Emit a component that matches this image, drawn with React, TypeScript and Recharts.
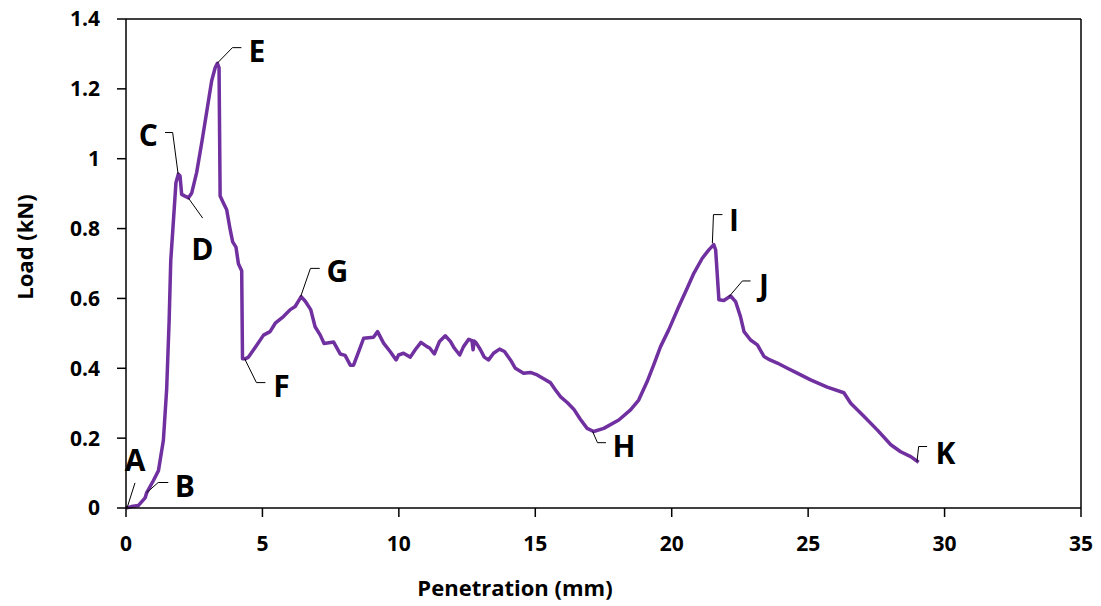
import React from "react";
import {
    Line,
    LineChart,
    ReferenceDot,
    ReferenceLine,
    XAxis,
    YAxis,
    Label,
} from "recharts";

// penetration (mm) and load (kN)
const penetration = [
    0.0, 0.2, 0.45, 0.7, 0.76, 1.0, 1.19, 1.37, 1.49, 1.58, 1.64, 1.74, 1.83, 1.92, 1.98,
    2.04, 2.16, 2.29, 2.41, 2.59, 2.78, 2.96, 3.14, 3.27, 3.35, 3.41, 3.45, 3.57, 3.69, 3.82,
    3.91, 4.03, 4.12, 4.24, 4.27, 4.37, 4.49, 4.79, 5.04, 5.28, 5.47, 5.77, 6.02, 6.2, 6.42,
    6.57, 6.77, 6.93, 7.12, 7.26, 7.61, 7.85, 8.03, 8.22, 8.34, 8.52, 8.71, 9.07, 9.22, 9.44,
    9.68, 9.9, 9.99, 10.17, 10.42, 10.6, 10.81, 11.03, 11.13, 11.3, 11.49, 11.7, 11.89, 12.03,
    12.23, 12.37, 12.56, 12.68, 12.72, 12.76, 12.84, 12.99, 13.13, 13.29, 13.47, 13.69, 13.87,
    14.09, 14.27, 14.57, 14.82, 15.07, 15.37, 15.55, 15.74, 15.92, 16.17, 16.41, 16.65, 16.9,
    17.14, 17.51, 18.06, 18.49, 18.79, 19.1, 19.34, 19.59, 19.89, 20.26, 20.57, 20.81, 21.12,
    21.36, 21.54, 21.61, 21.73, 21.91, 22.16, 22.34, 22.52, 22.65, 22.89, 23.14, 23.38, 23.6,
    23.87, 24.24, 24.6, 25.09, 25.7, 26.31, 26.56, 27.05, 27.54, 28.03, 28.39, 28.76, 29.05,
];
const load = [
    0.0, 0.004, 0.007, 0.029, 0.044, 0.078, 0.107, 0.194, 0.34, 0.534, 0.708, 0.825, 0.931, 0.956, 0.951,
    0.898, 0.893, 0.888, 0.902, 0.961, 1.048, 1.135, 1.223, 1.261, 1.273, 1.261, 0.893, 0.873, 0.854, 0.796,
    0.762, 0.747, 0.699, 0.679, 0.427, 0.427, 0.432, 0.466, 0.495, 0.505, 0.529, 0.548, 0.568, 0.577, 0.605,
    0.592, 0.568, 0.519, 0.495, 0.471, 0.475, 0.441, 0.437, 0.409, 0.409, 0.446, 0.486, 0.489, 0.505, 0.472,
    0.448, 0.424, 0.438, 0.443, 0.432, 0.453, 0.474, 0.462, 0.458, 0.441, 0.477, 0.493, 0.477, 0.458,
    0.438, 0.462, 0.483, 0.479, 0.453, 0.478, 0.472, 0.453, 0.432, 0.424, 0.443, 0.455, 0.448,
    0.424, 0.4, 0.386, 0.388, 0.381, 0.367, 0.359, 0.338, 0.319, 0.302, 0.283, 0.254, 0.228,
    0.219, 0.228, 0.252, 0.281, 0.309, 0.362, 0.41, 0.462, 0.51, 0.577, 0.63, 0.672, 0.715,
    0.739, 0.754, 0.739, 0.596, 0.594, 0.607, 0.591, 0.548, 0.505, 0.481, 0.467, 0.434, 0.424,
    0.415, 0.4, 0.386, 0.367, 0.346, 0.33, 0.3, 0.262, 0.223, 0.181, 0.161, 0.147, 0.131,
];

const xTicks = [0, 5, 10, 15, 20, 25, 30, 35];
const yTicks = [0, 0.2, 0.4, 0.6, 0.8, 1, 1.2, 1.4];

// point letters, where each letter sits, and the leader line back to the curve
const pointNames = ["A", "B", "C", "D", "E", "F", "G", "H", "I", "J", "K"];
const nameAt: [number, number][] = [
    [0.33, 0.14], [2.16, 0.063], [0.82, 1.07], [2.8, 0.742], [4.8, 1.31], [5.7, 0.35],
    [7.75, 0.679], [18.25, 0.178], [22.28, 0.827], [23.38, 0.64], [30.03, 0.158],
];
const leaders: [number, number][][] = [
    [[0.05, 0.003], [0.33, 0.072]],
    [[0.76, 0.044], [1.18, 0.073], [1.55, 0.073]],
    [[1.91, 0.956], [1.71, 1.075], [1.43, 1.075]],
    [[2.28, 0.888], [2.81, 0.83]],
    [[3.34, 1.273], [3.9, 1.318], [4.23, 1.318]],
    [[4.35, 0.427], [4.78, 0.359], [5.11, 0.359]],
    [[6.4, 0.605], [6.76, 0.686], [7.1, 0.686]],
    [[17.1, 0.219], [17.28, 0.187], [17.59, 0.187]],
    [[21.49, 0.758], [21.53, 0.84], [21.86, 0.84]],
    [[22.1, 0.605], [22.59, 0.65], [22.89, 0.65]],
    [[28.99, 0.133], [29.05, 0.176], [29.36, 0.176]],
];

const data = penetration.map((x, i) => ({ x, load: load[i] }));

const FONT = "'Open Sans', Lato, sans-serif";

export default function App() {
    const tickStyle = { fill: "#000", fontSize: 21, fontWeight: 700, fontFamily: FONT };

    return (
        <div style={{ position: "absolute", left: 0, top: 0, fontFamily: FONT }}>
            <LineChart
                width={1101}
                height={606}
                data={data}
                margin={{ top: 19, right: 20, bottom: 0, left: 0 }}
            >
                <XAxis
                    dataKey="x"
                    type="number"
                    domain={[0, 35]}
                    ticks={xTicks}
                    height={98}
                    stroke="#000"
                    strokeWidth={1.5}
                    tickSize={9}
                    tickMargin={19}
                    tick={tickStyle}
                >
                    <Label
                        content={() => (
                            <text
                                x={515}
                                y={596}
                                textAnchor="middle"
                                fontSize={22}
                                fontWeight={700}
                                fontFamily={FONT}
                                fill="#000"
                            >
                                Penetration (mm)
                            </text>
                        )}
                    />
                </XAxis>
                <YAxis
                    type="number"
                    domain={[0, 1.4]}
                    ticks={yTicks}
                    width={126}
                    stroke="#000"
                    strokeWidth={1.5}
                    tickSize={9}
                    tickMargin={17}
                    tick={tickStyle}
                >
                    <Label
                        content={() => (
                            <text
                                x={24}
                                y={247}
                                transform="rotate(-90 24 247)"
                                textAnchor="middle"
                                dominantBaseline="central"
                                fontSize={22}
                                fontWeight={700}
                                fontFamily={FONT}
                                fill="#000"
                            >
                                Load (kN)
                            </text>
                        )}
                    />
                </YAxis>

                {/* plot area box: top and right edges */}
                <ReferenceLine y={1.4} stroke="#000" strokeWidth={1.5} />
                <ReferenceLine x={35} stroke="#000" strokeWidth={1.5} />

                <Line
                    type="linear"
                    dataKey="load"
                    stroke="#7030A0"
                    strokeWidth={3.5}
                    strokeLinejoin="round"
                    dot={false}
                    isAnimationActive={false}
                />

                {leaders.flatMap((pts, i) =>
                    pts.slice(1).map((p, j) => (
                        <ReferenceLine
                            key={`ld-${i}-${j}`}
                            segment={[
                                { x: pts[j][0], y: pts[j][1] },
                                { x: p[0], y: p[1] },
                            ]}
                            stroke="#000"
                            strokeWidth={1}
                            ifOverflow="visible"
                        />
                    ))
                )}

                {pointNames.map((name, i) => (
                    <ReferenceDot
                        key={name}
                        x={nameAt[i][0]}
                        y={nameAt[i][1]}
                        r={0}
                        ifOverflow="visible"
                        shape={(p: any) => (
                            <text
                                x={p.cx}
                                y={p.cy}
                                textAnchor="middle"
                                dominantBaseline="central"
                                fontSize={30}
                                fontWeight={700}
                                fontFamily={FONT}
                                fill="#000"
                            >
                                {name}
                            </text>
                        )}
                    />
                ))}
            </LineChart>
        </div>
    );
}
